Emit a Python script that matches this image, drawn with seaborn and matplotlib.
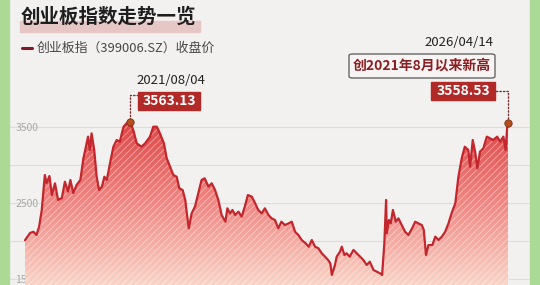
import numpy as np
import pandas as pd
import matplotlib
matplotlib.use("Agg")
import matplotlib.pyplot as plt
import matplotlib.dates as mdates
from matplotlib.patches import Rectangle, FancyBboxPatch, PathPatch
from matplotlib.lines import Line2D
from matplotlib.colors import LinearSegmentedColormap, Normalize
import seaborn as sns

# ---------------- data ----------------
dates = [
    "2020-04-14", "2020-05-07", "2020-05-22", "2020-06-05", "2020-06-17", "2020-06-29",
    "2020-07-13", "2020-07-21", "2020-08-03", "2020-08-14", "2020-08-28", "2020-09-11",
    "2020-09-28", "2020-10-12", "2020-10-26", "2020-11-06", "2020-11-19", "2020-12-04",
    "2020-12-21", "2021-01-04", "2021-01-14", "2021-01-25", "2021-02-02", "2021-02-10",
    "2021-02-22", "2021-03-05", "2021-03-16", "2021-03-29", "2021-04-09", "2021-04-20",
    "2021-05-06", "2021-05-20", "2021-06-04", "2021-06-18", "2021-07-05", "2021-07-19",
    "2021-08-04", "2021-08-18", "2021-09-03", "2021-09-24", "2021-10-11", "2021-11-02",
    "2021-11-17", "2021-12-03", "2021-12-17", "2022-01-04", "2022-01-17", "2022-02-07",
    "2022-02-16", "2022-03-03", "2022-03-15", "2022-03-30", "2022-04-11", "2022-04-20",
    "2022-04-27", "2022-05-10", "2022-05-25", "2022-06-09", "2022-06-24", "2022-07-08",
    "2022-07-25", "2022-08-09", "2022-08-24", "2022-09-08", "2022-09-23", "2022-10-10",
    "2022-10-19", "2022-10-31", "2022-11-11", "2022-11-23", "2022-12-08", "2022-12-23",
    "2023-01-06", "2023-01-20", "2023-02-07", "2023-02-22", "2023-03-08", "2023-03-24",
    "2023-04-07", "2023-04-24", "2023-05-08", "2023-05-23", "2023-06-07", "2023-06-21",
    "2023-07-07", "2023-07-24", "2023-08-07", "2023-08-22", "2023-09-06", "2023-09-21",
    "2023-10-09", "2023-10-23", "2023-11-06", "2023-11-21", "2023-12-06", "2023-12-21",
    "2024-01-05", "2024-01-19", "2024-01-29", "2024-02-05", "2024-02-19", "2024-02-27",
    "2024-03-13", "2024-03-21", "2024-04-02", "2024-04-12", "2024-04-26", "2024-05-13",
    "2024-05-28", "2024-06-12", "2024-06-27", "2024-07-12", "2024-07-26", "2024-08-12",
    "2024-08-27", "2024-09-11", "2024-09-20", "2024-09-30", "2024-10-08", "2024-10-11",
    "2024-10-21", "2024-10-29", "2024-11-08", "2024-11-21", "2024-12-03", "2024-12-18",
    "2025-01-02", "2025-01-17", "2025-02-03", "2025-02-17", "2025-03-03", "2025-03-19",
    "2025-03-28", "2025-04-07", "2025-04-18", "2025-05-06", "2025-05-19", "2025-06-03",
    "2025-06-18", "2025-07-03", "2025-07-18", "2025-08-01", "2025-08-18", "2025-09-01",
    "2025-09-16", "2025-09-30", "2025-10-16", "2025-10-24", "2025-11-05", "2025-11-17",
    "2025-11-26", "2025-12-08", "2025-12-23", "2026-01-08", "2026-01-23", "2026-02-06",
    "2026-02-24", "2026-03-09", "2026-03-24", "2026-04-03", "2026-04-10", "2026-04-14",
]
closes = [
    2010, 2105, 2122, 2079, 2188, 2408,
    2868, 2763, 2855, 2605, 2759, 2540,
    2565, 2780, 2649, 2803, 2631, 2737,
    2803, 3088, 3224, 3373, 3197, 3417,
    3197, 2846, 2671, 2715, 2846, 2803,
    3043, 3241, 3329, 3307, 3504, 3549,
    3563.13, 3461, 3285, 3241, 3285, 3373,
    3504, 3504, 3417, 3285, 3088, 2934,
    2868, 2846, 2693, 2671, 2540, 2320,
    2167, 2364, 2452, 2627, 2803, 2825,
    2715, 2759, 2671, 2540, 2342, 2254,
    2430, 2364, 2408, 2342, 2386, 2320,
    2452, 2605, 2583, 2496, 2408, 2364,
    2430, 2340, 2298, 2276, 2167, 2254,
    2210, 2232, 2254, 2122, 2079, 2013,
    1970, 1925, 2013, 1925, 1904, 1838,
    1794, 1750, 1706, 1553, 1684, 1794,
    1860, 1925, 1816, 1838, 1794, 1882,
    1838, 1794, 1750, 1684, 1728, 1618,
    1596, 1574, 1553, 1970, 2540, 2101,
    2276, 2232, 2408, 2254, 2298, 2210,
    2122, 2079, 2167, 2254, 2232, 2210,
    2145, 1816, 1947, 1947, 2057, 2013,
    2057, 2122, 2232, 2364, 2496, 2846,
    3088, 3241, 3197, 2978, 3329, 3154,
    2956, 3175, 3219, 3373, 3351, 3329,
    3373, 3307, 3373, 3197, 3482, 3558.53,
]
highlight_dates = ["2021-08-04", "2026-04-14"]
highlight_values = [3563.13, 3558.53]
highlight_labels = ["3563.13", "3558.53"]
grid_levels = [1500, 2000, 2500, 3000, 3500]
tick_labels = ["1500", "", "2500", "", "3500"]

title = "创业板指数走势一览"
legend_label = "创业板指（399006.SZ）收盘价"
note_text = "创2021年8月以来新高"

# ---------------- setup ----------------
sns.set_theme(style="white")
plt.rcParams["font.family"] = ["Noto Sans CJK SC", "DejaVu Sans"]
plt.rcParams["hatch.linewidth"] = 0.7

W, H = 540, 285
BG = "#f3f1ef"
fig = plt.figure(figsize=(W / 100, H / 100), dpi=100, facecolor=BG)
ax = fig.add_axes([0, 0, 1, 1])
ax.set_facecolor(BG)

def fx(x):
    return x / W

def fy(y):
    return 1 - y / H

df = pd.DataFrame({"date": pd.to_datetime(dates), "close": closes})
df["x"] = mdates.date2num(df["date"])

start = mdates.date2num(pd.Timestamp("2020-04-14"))
end = mdates.date2num(pd.Timestamp("2026-04-14"))
dpp = (end - start) / (508 - 25)          # days per pixel
xlo = start - 25 * dpp
xhi = start + (W - 25) * dpp
vpp = 1000 / 76                            # value per pixel
ylo = 2500 - (H - 203) * vpp
yhi = 2500 + 203 * vpp

# gradient area
cmap = LinearSegmentedColormap.from_list(
    "redfill", [(0, "#f9d3c6"), (0.5, "#f08682"), (1, "#dc4444")])
grad = np.linspace(ylo, yhi, 400).reshape(-1, 1)
im = ax.imshow(grad, extent=[xlo, xhi, ylo, yhi], origin="lower", aspect="auto",
               cmap=cmap, norm=Normalize(ylo, 3600), zorder=1)
poly = ax.fill_between(df["x"], df["close"], ylo, facecolor="none", lw=0, zorder=1)
clip = PathPatch(poly.get_paths()[0], transform=ax.transData, facecolor="none", edgecolor="none")
ax.add_patch(clip)
im.set_clip_path(clip)
ax.fill_between(df["x"], df["close"], ylo, facecolor="none", edgecolor=(1, 1, 1, 0.4),
                hatch="/////", lw=0, zorder=2)

sns.lineplot(data=df, x="x", y="close", color="#c3262c", linewidth=1.6, ax=ax, zorder=3)

# grid + ticks
ax.set_xlim(xlo, xhi)
ax.set_ylim(ylo, yhi)
ax.set_yticks(grid_levels)
ax.set_yticklabels(tick_labels)
ax.set_xticks([])
ax.grid(axis="y", color="#dddddd", linewidth=0.8, zorder=0)
ax.set_axisbelow(True)
ax.tick_params(axis="y", direction="in", length=0, pad=-27.5, labelsize=7.5, labelcolor="#a8a8a8")
ax.set_xlabel("")
ax.set_ylabel("")
for s in ax.spines.values():
    s.set_visible(False)

# highlight dots
hx = mdates.date2num(pd.to_datetime(highlight_dates))
ax.scatter(hx, highlight_values, s=28, color="#b4501f", edgecolor="#7a2a12", linewidth=0.6, zorder=5)

# dotted leaders
ax.annotate("", xy=(hx[0], highlight_values[0]), xytext=(138, H - 95), textcoords="figure pixels",
            arrowprops=dict(arrowstyle="-", linestyle=(0, (1, 1.5)), color="#7a3030", lw=1.0,
                            connectionstyle="angle,angleA=0,angleB=90,rad=0", shrinkA=0, shrinkB=0),
            zorder=4)
ax.annotate("", xy=(hx[1], highlight_values[1]), xytext=(496, H - 91), textcoords="figure pixels",
            arrowprops=dict(arrowstyle="-", linestyle=(0, (1, 1.5)), color="#7a3030", lw=1.0,
                            connectionstyle="angle,angleA=0,angleB=90,rad=0", shrinkA=0, shrinkB=0),
            zorder=4)

# side green strips
fig.patches.append(Rectangle((0, 0), fx(9), 1, transform=fig.transFigure, color="#acd996", zorder=5))
fig.patches.append(Rectangle((fx(530), 0), fx(10), 1, transform=fig.transFigure, color="#acd996", zorder=5))

# title with highlight
fig.patches.append(Rectangle((fx(20), fy(32)), fx(180), 11 / H, transform=fig.transFigure,
                             color="#e7c7c5", zorder=1))
fig.text(fx(21), fy(17), title, fontsize=14, fontweight="bold", color="#1e1e1e", va="center", zorder=3)

# legend
fig.add_artist(Line2D([fx(22), fx(32)], [fy(48), fy(48)], color="#7b1c28", lw=2.2,
                      transform=fig.transFigure))
fig.text(fx(37), fy(48), legend_label, fontsize=9.3, color="#474747", va="center")

# annotations
fig.text(fx(171), fy(80), highlight_dates[0].replace("-", "/"), fontsize=9.5, color="#222222",
         ha="center", va="center")
fig.patches.append(Rectangle((fx(138), fy(110)), fx(62), 18 / H, transform=fig.transFigure,
                             color="#b22a27", zorder=2))
fig.text(fx(169), fy(101), highlight_labels[0], fontsize=10, fontweight="bold", color="white",
         ha="center", va="center")

fig.text(fx(459), fy(42), highlight_dates[1].replace("-", "/"), fontsize=9.5, color="#222222",
         ha="center", va="center")
fig.patches.append(FancyBboxPatch((fx(349), fy(78)), fx(146), 24 / H,
                                  boxstyle="round,pad=0,rounding_size=0.006",
                                  transform=fig.transFigure, facecolor="#f8f4f3",
                                  edgecolor="#666666", linewidth=1.0, zorder=2))
fig.text(fx(422), fy(66), note_text, fontsize=10, fontweight="bold", color="#8c1f22",
         ha="center", va="center")
fig.patches.append(Rectangle((fx(431), fy(100)), fx(64), 18 / H, transform=fig.transFigure,
                             color="#b22a27", zorder=2))
fig.text(fx(463), fy(91), highlight_labels[1], fontsize=10, fontweight="bold", color="white",
         ha="center", va="center")

fig.savefig("out.png", dpi=100, facecolor=BG)
